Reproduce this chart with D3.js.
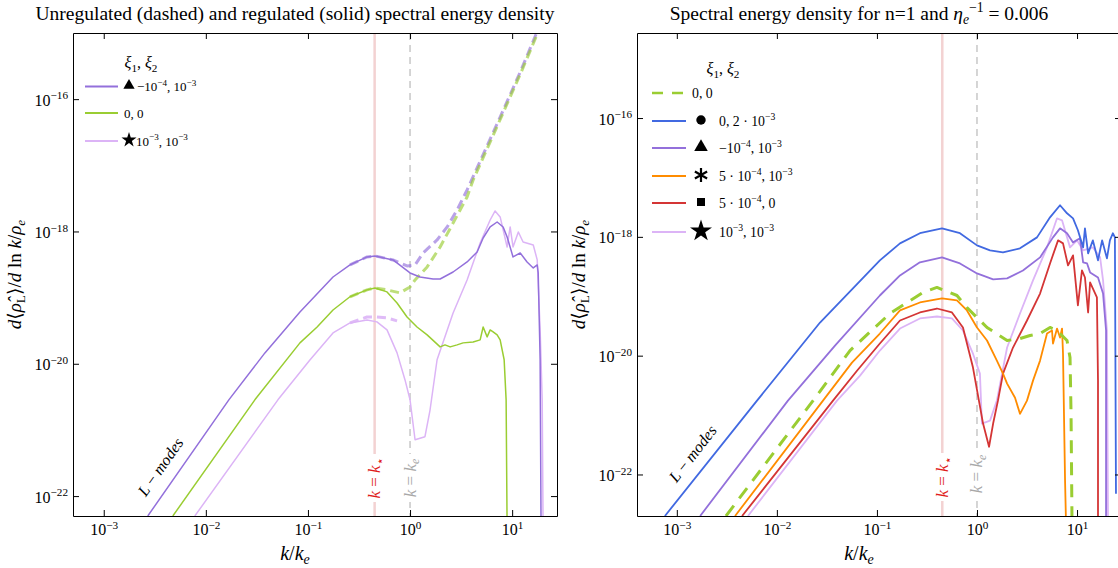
<!DOCTYPE html>
<html>
<head>
<meta charset="utf-8">
<script src="https://cdn.jsdelivr.net/npm/d3@7"></script>
<style>
body { margin: 0; background: #fff; }
svg { display: block; }
text { font-family: "Liberation Serif", "DejaVu Serif", serif; }
</style>
</head>
<body>
<svg id="chart" width="1118" height="568"></svg>
<script>
// ---- data (k / k_e, d<rho_L>/dlnk / rho_e) ----
const kTicks = [1e-3, 1e-2, 1e-1, 1e0, 1e1];
const rhoTicks = [1e-22, 1e-20, 1e-18, 1e-16];
const kStar = 0.45;
const kE = 1.0;

// left panel, regulated (solid)
const leftPurpleK = [2.70e-3, 1.68e-2, 3.79e-2, 8.35e-2, 0.176, 0.258, 0.379, 0.454, 0.681, 1.0, 1.25, 1.68, 1.97, 2.64, 3.62, 4.54, 5.20, 6.09, 7.13, 8.16, 8.93, 10.2, 12.0, 14.0, 16.1, 17.6, 18.0, 18.8, 19.2];
const leftPurpleRho = [5.0e-23, 2.85e-21, 1.46e-20, 6.08e-20, 2.05e-19, 3.12e-19, 4.12e-19, 4.27e-19, 3.71e-19, 2.36e-19, 2.05e-19, 1.91e-19, 1.91e-19, 2.44e-19, 3.46e-19, 4.9e-19, 7.97e-19, 1.17e-18, 1.39e-18, 1.17e-18, 8.26e-19, 4.12e-19, 4.73e-19, 3.46e-19, 2.81e-19, 3.12e-19, 2.36e-19, 1.15e-20, 3e-23];
const leftGreenK = [4.75e-3, 3.02e-2, 8.35e-2, 0.123, 0.176, 0.258, 0.379, 0.454, 0.595, 0.746, 0.935, 1.17, 1.47, 1.97, 2.2, 2.47, 2.89, 3.31, 4.15, 4.86, 5.2, 5.69, 6.09, 6.51, 7.13, 7.63, 8.35, 8.73, 8.93];
const leftGreenRho = [5e-23, 2.85e-21, 2.07e-20, 3.6e-20, 6.5e-20, 1.03e-19, 1.31e-19, 1.40e-19, 1.22e-19, 8.3e-20, 5.1e-20, 3.6e-20, 2.73e-20, 1.80e-20, 1.93e-20, 1.80e-20, 1.93e-20, 2.07e-20, 2.14e-20, 2.3e-20, 3.6e-20, 2.55e-20, 3.25e-20, 3.03e-20, 2.73e-20, 2.3e-20, 1.15e-20, 2.85e-21, 3e-23];
const leftPinkK = [7.8e-3, 5.08e-2, 0.105, 0.176, 0.258, 0.379, 0.474, 0.595, 0.746, 0.893, 1.0, 1.12, 1.40, 1.57, 1.84, 2.64, 3.62, 4.86, 6.09, 6.81, 7.63, 8.93, 9.56, 10.2, 11.5, 12.8, 16.1, 17.6, 18.8, 19.7, 20.1];
const leftPinkRho = [5e-23, 2.85e-21, 1.15e-20, 2.93e-20, 4.15e-20, 4.6e-20, 4.3e-20, 3.25e-20, 1.46e-20, 5.7e-21, 2.85e-21, 7.1e-22, 7.9e-22, 2.0e-21, 1.15e-20, 5.87e-20, 1.85e-19, 6.7e-19, 1.49e-18, 2.04e-18, 1.66e-18, 5.83e-19, 1.17e-18, 5.83e-19, 9.8e-19, 6.93e-19, 6.25e-19, 3.72e-19, 3.25e-20, 2.85e-21, 3e-23];

// left panel, unregulated (dashed)
const leftPurpleDashK = [0.258, 0.379, 0.454, 0.681, 0.935, 1.12, 1.34, 1.84, 2.31, 2.89, 3.62, 7.63, 12.0, 19.2];
const leftPurpleDashRho = [3.12e-19, 4.12e-19, 4.27e-19, 3.71e-19, 3.01e-19, 3.12e-19, 4.73e-19, 7.44e-19, 1.17e-18, 2.11e-18, 4.24e-18, 5.37e-17, 2.57e-16, 1.45e-15];
const leftGreenDashK = [0.258, 0.379, 0.454, 0.595, 0.798, 1.0, 1.12, 1.47, 1.97, 2.64, 3.62, 4.15, 7.98, 12.5, 19.2];
const leftGreenDashRho = [1.03e-19, 1.31e-19, 1.40e-19, 1.31e-19, 1.18e-19, 1.45e-19, 1.85e-19, 2.91e-19, 5.83e-19, 1.34e-18, 3.32e-18, 6.0e-18, 5.75e-17, 2.75e-16, 1.32e-15];
const leftPinkDashK = [0.258, 0.379, 0.474, 0.595, 0.746];
const leftPinkDashRho = [4.15e-20, 5.1e-20, 5.1e-20, 4.93e-20, 4.45e-20];

// right panel
const rightGreenK = [3.1e-3, 2.3e-2, 5.38e-2, 0.135, 0.288, 0.398, 0.631, 0.794, 1.0, 1.26, 2.0, 2.69, 3.39, 4.27, 5.37, 6.31, 7.94, 8.51, 8.71, 8.91];
const rightGreenRho = [2e-23, 1.75e-21, 1.22e-20, 5.13e-20, 1.16e-19, 1.41e-19, 1.03e-19, 6.47e-20, 4.38e-20, 2.98e-20, 1.8e-20, 1.94e-20, 2.18e-20, 2.36e-20, 2.98e-20, 2.65e-20, 1.8e-20, 9.3e-21, 1.06e-21, 1.5e-23];
const rightBlueK = [7.6e-4, 6.33e-3, 2.7e-2, 0.107, 0.170, 0.269, 0.447, 0.676, 1.0, 1.35, 1.82, 2.69, 3.98, 5.37, 6.76, 7.94, 9.12, 10.2, 11.5, 12.0, 12.9, 14.4, 16.2, 17.8, 19.9, 21.3, 22.8, 23.9, 24.5];
const rightBlueRho = [2e-23, 1.75e-21, 3.61e-20, 4.02e-19, 7.76e-19, 1.15e-18, 1.39e-18, 1.15e-18, 7.19e-19, 5.92e-19, 5.48e-19, 6.4e-19, 9.8e-19, 2.13e-18, 3.4e-18, 2.49e-18, 2.05e-18, 1.29e-18, 6.65e-19, 1.39e-18, 5.27e-19, 8.73e-19, 4.02e-19, 8.73e-19, 4.34e-19, 8.73e-19, 1.15e-18, 9.8e-19, 4.73e-23];
const rightPurpleK = [1.71e-3, 1.29e-2, 3.81e-2, 0.107, 0.170, 0.269, 0.447, 0.676, 1.0, 1.45, 2.0, 2.88, 4.27, 5.75, 6.76, 7.94, 9.12, 10.7, 11.5, 12.6, 13.5, 16.2, 18.2, 19.5, 19.5];
const rightPurpleRho = [2e-23, 1.75e-21, 1.48e-20, 1.03e-19, 2.24e-19, 3.72e-19, 4.51e-19, 3.57e-19, 2.42e-19, 1.92e-19, 2.0e-19, 2.72e-19, 4.51e-19, 9.8e-19, 1.39e-18, 1.15e-18, 8.07e-19, 9.44e-19, 3.72e-19, 3.57e-19, 2.52e-19, 2.07e-19, 1.11e-19, 2.65e-20, 1.5e-23];
const rightOrangeK = [3.82e-3, 2.89e-2, 5.63e-2, 0.107, 0.170, 0.269, 0.447, 0.631, 0.794, 1.0, 1.26, 1.58, 1.82, 2.0, 2.4, 2.69, 3.16, 3.63, 4.27, 5.01, 5.62, 5.75, 6.31, 6.76, 7.08, 7.24, 7.59, 7.76];
const rightOrangeRho = [2e-23, 1.75e-21, 7.64e-21, 2.36e-20, 5.77e-20, 7.86e-20, 9.18e-20, 8.49e-20, 5.77e-20, 2.98e-20, 1.8e-20, 8.26e-21, 4.99e-21, 3.39e-21, 1.96e-21, 1.05e-21, 1.75e-21, 3.8e-21, 8.26e-21, 2.36e-20, 2.65e-20, 1.6e-20, 2.86e-20, 2.02e-20, 2.86e-20, 1.08e-20, 7.8e-23, 1.5e-23];
const rightRedK = [4.49e-3, 3.64e-2, 6.32e-2, 0.107, 0.170, 0.269, 0.398, 0.562, 0.724, 0.912, 1.15, 1.32, 1.45, 1.62, 1.82, 2.29, 3.16, 4.27, 5.37, 6.46, 7.24, 8.13, 9.12, 10.2, 11.2, 12.0, 12.9, 13.5, 15.8, 16.2, 16.2];
const rightRedRho = [2e-23, 1.75e-21, 5.56e-21, 1.6e-20, 3.91e-20, 5.33e-20, 6.22e-20, 5.33e-20, 2.98e-20, 6.3e-21, 7.2e-22, 2.93e-22, 7.2e-22, 1.75e-21, 4.99e-21, 1.37e-20, 3.91e-20, 1.11e-19, 3.57e-19, 8.73e-19, 7.76e-19, 3.3e-19, 4.88e-19, 7.0e-20, 2.72e-19, 2.07e-19, 5.33e-20, 1.71e-19, 9.55e-20, 3.8e-21, 1.5e-23];
const rightPinkK = [5.14e-3, 3.99e-2, 6.78e-2, 0.107, 0.170, 0.269, 0.398, 0.562, 0.724, 0.912, 1.07, 1.12, 1.35, 1.58, 2.0, 2.69, 3.63, 5.01, 6.31, 7.08, 8.51, 10.0, 11.5, 14.4, 17.0, 18.2, 19.9, 20.4];
const rightPinkRho = [2e-23, 1.75e-21, 4.61e-21, 1.22e-20, 2.86e-20, 4.23e-20, 4.56e-20, 4.23e-20, 2.65e-20, 1.08e-20, 4.99e-21, 7.2e-22, 8.05e-22, 1.75e-21, 1.37e-20, 5.13e-20, 1.85e-19, 6.65e-19, 2.05e-18, 1.9e-18, 6.65e-19, 8.73e-19, 5.92e-19, 6.65e-19, 4.51e-19, 1.85e-19, 2.65e-20, 1.5e-23];

const leftLegendLabels = ['−10^{−4}, 10^{−3}', '0, 0', '10^{−3}, 10^{−3}'];
const rightLegendLabels = ['0, 0', '0, 2 · 10^{−3}', '−10^{−4}, 10^{−3}', '5 · 10^{−4}, 10^{−3}', '5 · 10^{−4}, 0', '10^{−3}, 10^{−3}'];

// ---- styles ----
const PURPLE = '#9370db';
const GREEN = '#9acd32';
const PINK = '#dcb4f6';
const BLUE = '#4169e1';
const ORANGE = '#ff8c00';
const RED = '#d43535';

const svg = d3.select('#chart');

// tiny TeX-ish text: ^{..} superscript, _{..} subscript, *..* italic
function tex(text, str, size, base) {
  const re = /\^\{([^}]*)\}|_\{([^}]*)\}|\*([^*]*)\*|([^^_*]+)/g;
  let m;
  let shift = 0;
  let first = true;
  while ((m = re.exec(str))) {
    let s;
    let target = 0;
    let fs = size;
    let it = false;
    if (m[1] !== undefined) {
      s = m[1]; target = -0.4 * size; fs = size * 0.7;
    } else if (m[2] !== undefined) {
      s = m[2]; target = 0.22 * size; fs = size * 0.7;
    } else if (m[3] !== undefined) {
      s = m[3]; it = true;
    } else {
      s = m[4];
    }
    if (s.length > 1 && s[0] === '*' && s[s.length - 1] === '*') {
      s = s.slice(1, -1); it = true;
    }
    const dy = target - shift + (first ? (base || 0) : 0);
    const t = text.append('tspan').attr('dy', dy).attr('font-size', fs).text(s);
    if (it) t.attr('font-style', 'italic');
    shift = target;
    first = false;
  }
}

const panels = [
  {
    x0: 73, x1: 557, y0: 33, y1: 516,
    kDomain: [5e-4, 27.5], rhoDomain: [5e-23, 1e-15],
    center: 295, ylabelX: 21,
    title: 'Unregulated (dashed) and regulated (solid) spectral energy density',
    lw: 1.5,
    series: [
      {k: leftPurpleDashK, rho: leftPurpleDashRho, color: PURPLE, dash: '9,5', width: 3, opacity: 0.65},
      {k: leftGreenDashK, rho: leftGreenDashRho, color: GREEN, dash: '9,5', width: 3, opacity: 0.65},
      {k: leftPinkDashK, rho: leftPinkDashRho, color: PINK, dash: '9,5', width: 3, opacity: 0.9},
      {k: leftPinkK, rho: leftPinkRho, color: PINK},
      {k: leftGreenK, rho: leftGreenRho, color: GREEN},
      {k: leftPurpleK, rho: leftPurpleRho, color: PURPLE}
    ],
    legend: {
      titleX: 141, titleY: 68, lineX: [85, 118], symX: 129, textX: 137, size: 13,
      rows: [
        {y: 86.5, color: PURPLE, sym: d3.symbolTriangle, symSize: 55, label: leftLegendLabels[0]},
        {y: 113, color: GREEN, sym: null, label: leftLegendLabels[1], textX: 124},
        {y: 141, color: PINK, sym: d3.symbolStar, symSize: 70, label: leftLegendLabels[2], textX: 136}
      ]
    },
    lmodes: {x: 165, y: 470, rot: -55},
    starLabel: {y: 478},
    eLabel: {y: 478}
  },
  {
    x0: 637, x1: 1121, y0: 33, y1: 516,
    kDomain: [4e-4, 27.5], rhoDomain: [2e-23, 2.7e-15],
    center: 859, ylabelX: 585,
    title: 'Spectral energy density for n=1 and *η*_{*e*}^{−1} = 0.006',
    lw: 1.8,
    series: [
      {k: rightPinkK, rho: rightPinkRho, color: PINK},
      {k: rightRedK, rho: rightRedRho, color: RED},
      {k: rightOrangeK, rho: rightOrangeRho, color: ORANGE},
      {k: rightPurpleK, rho: rightPurpleRho, color: PURPLE},
      {k: rightBlueK, rho: rightBlueRho, color: BLUE},
      {k: rightGreenK, rho: rightGreenRho, color: GREEN, dash: '13,9', width: 3}
    ],
    legend: {
      titleX: 723, titleY: 74, lineX: [652, 686], symX: 701, textX: 719, size: 13.8,
      rows: [
        {y: 93, color: GREEN, dash: '11,9', width: 2.5, sym: null, label: rightLegendLabels[0], textX: 692},
        {y: 121, color: BLUE, sym: d3.symbolCircle, symSize: 70, label: rightLegendLabels[1]},
        {y: 148, color: PURPLE, sym: d3.symbolTriangle, symSize: 80, label: rightLegendLabels[2]},
        {y: 176, color: ORANGE, sym: d3.symbolAsterisk, symSize: 140, stroke: true, label: rightLegendLabels[3]},
        {y: 203, color: RED, sym: d3.symbolSquare, symSize: 64, label: rightLegendLabels[4]},
        {y: 232, color: PINK, sym: d3.symbolStar, symSize: 150, label: rightLegendLabels[5]}
      ]
    },
    lmodes: {x: 697, y: 457, rot: -52},
    starLabel: {y: 477},
    eLabel: {y: 474}
  }
];

panels.forEach((p, i) => {
  const x = d3.scaleLog().domain(p.kDomain).range([p.x0, p.x1]);
  const y = d3.scaleLog().domain(p.rhoDomain).range([p.y1, p.y0]);
  const g = svg.append('g');

  g.append('clipPath').attr('id', 'clip' + i)
    .append('rect').attr('x', p.x0).attr('y', p.y0)
    .attr('width', p.x1 - p.x0).attr('height', p.y1 - p.y0);

  const plot = g.append('g').attr('clip-path', `url(#clip${i})`);

  // reference lines k = k_* and k = k_e
  plot.append('line')
    .attr('x1', x(kStar)).attr('x2', x(kStar)).attr('y1', p.y0).attr('y2', p.y1)
    .attr('stroke', '#f3d2d2').attr('stroke-width', 2.5);
  plot.append('line')
    .attr('x1', x(kE)).attr('x2', x(kE)).attr('y1', p.y0).attr('y2', p.y1)
    .attr('stroke', '#c8c8c8').attr('stroke-width', 1.5).attr('stroke-dasharray', '7,5');

  const line = d3.line().x(d => x(d[0])).y(d => y(d[1]));
  p.series.forEach(s => {
    plot.append('path')
      .datum(d3.zip(s.k, s.rho))
      .attr('d', line)
      .attr('fill', 'none')
      .attr('stroke', s.color)
      .attr('stroke-width', s.width || p.lw)
      .attr('stroke-opacity', s.opacity || 1)
      .attr('stroke-dasharray', s.dash || null)
      .attr('stroke-linejoin', 'round');
  });

  // vertical labels with white box
  const vlabels = [
    {k: kStar, y: p.starLabel.y, str: '*k* = *k*_{⋆}', color: '#e01b1b'},
    {k: kE, y: p.eLabel.y, str: '*k* = *k*_{*e*}', color: '#a8a8a8'}
  ];
  vlabels.forEach(v => {
    const lg = g.append('g').attr('transform', `translate(${x(v.k)},${v.y}) rotate(-90)`);
    lg.append('rect').attr('x', -24).attr('y', -9).attr('width', 48).attr('height', 18).attr('fill', '#fff');
    const t = lg.append('text').attr('text-anchor', 'middle').attr('y', 5.5)
      .attr('fill', v.color).attr('font-size', 17);
    tex(t, v.str, 17);
  });

  const lm = g.append('text')
    .attr('transform', `translate(${p.lmodes.x},${p.lmodes.y}) rotate(${p.lmodes.rot})`)
    .attr('text-anchor', 'middle').attr('dy', '0.35em').attr('font-size', 16);
  tex(lm, '*L* − *modes*', 16);

  // axes, ticks pointing in on all four sides
  const tickLabel = (sel, base) => sel.each(function (d) {
    const t = d3.select(this).text(null).attr('dy', null).attr('y', 0);
    tex(t, '10^{' + String(Math.round(Math.log10(d))).replace('-', '−') + '}', 16, base);
  });
  g.append('g').attr('transform', `translate(0,${p.y1})`)
    .call(d3.axisBottom(x).tickValues(kTicks).tickSize(-6).tickSizeOuter(0).tickFormat(() => ''))
    .call(a => tickLabel(a.selectAll('.tick text'), 19));
  g.append('g').attr('transform', `translate(0,${p.y0})`)
    .call(d3.axisTop(x).tickValues(kTicks).tickSize(-6).tickSizeOuter(0).tickFormat(() => ''));
  g.append('g').attr('transform', `translate(${p.x0},0)`)
    .call(d3.axisLeft(y).tickValues(rhoTicks).tickSize(-6).tickSizeOuter(0).tickPadding(5).tickFormat(() => ''))
    .call(a => tickLabel(a.selectAll('.tick text'), 6));
  g.append('g').attr('transform', `translate(${p.x1},0)`)
    .call(d3.axisRight(y).tickValues(rhoTicks).tickSize(-6).tickSizeOuter(0).tickFormat(() => ''));
  g.selectAll('.tick text').attr('font-family', '"Liberation Serif", serif');

  // titles and axis labels
  const tt = g.append('text').attr('x', p.center).attr('y', 20)
    .attr('text-anchor', 'middle').attr('font-size', 19.5);
  tex(tt, p.title, 19.5);

  const xl = g.append('text').attr('x', p.center).attr('y', 560)
    .attr('text-anchor', 'middle').attr('font-size', 20);
  tex(xl, '*k*/*k*_{*e*}', 20);

  const yl = g.append('text')
    .attr('transform', `translate(${p.ylabelX},${(p.y0 + p.y1) / 2}) rotate(-90)`)
    .attr('text-anchor', 'middle').attr('dy', '0.35em').attr('font-size', 19);
  tex(yl, '*d*⟨*ρ̂*_{L}⟩/*d* ln *k*/*ρ*_{*e*}', 19);

  // legend
  const L = p.legend;
  const lt = g.append('text').attr('x', L.titleX).attr('y', L.titleY)
    .attr('text-anchor', 'middle').attr('font-size', 16);
  tex(lt, '*ξ*_{1}, *ξ*_{2}', 16);
  L.rows.forEach(r => {
    g.append('line')
      .attr('x1', L.lineX[0]).attr('x2', L.lineX[1]).attr('y1', r.y).attr('y2', r.y)
      .attr('stroke', r.color).attr('stroke-width', r.width || 2)
      .attr('stroke-dasharray', r.dash || null);
    if (r.sym) {
      g.append('path')
        .attr('transform', `translate(${L.symX},${r.y - 1})`)
        .attr('d', d3.symbol(r.sym, r.symSize)())
        .attr('fill', r.stroke ? 'none' : '#000')
        .attr('stroke', r.stroke ? '#000' : 'none')
        .attr('stroke-width', 2.2);
    }
    const t = g.append('text').attr('x', r.textX || L.textX).attr('y', r.y + 4.5)
      .attr('font-size', L.size);
    tex(t, r.label, L.size);
  });
});
</script>
</body>
</html>
